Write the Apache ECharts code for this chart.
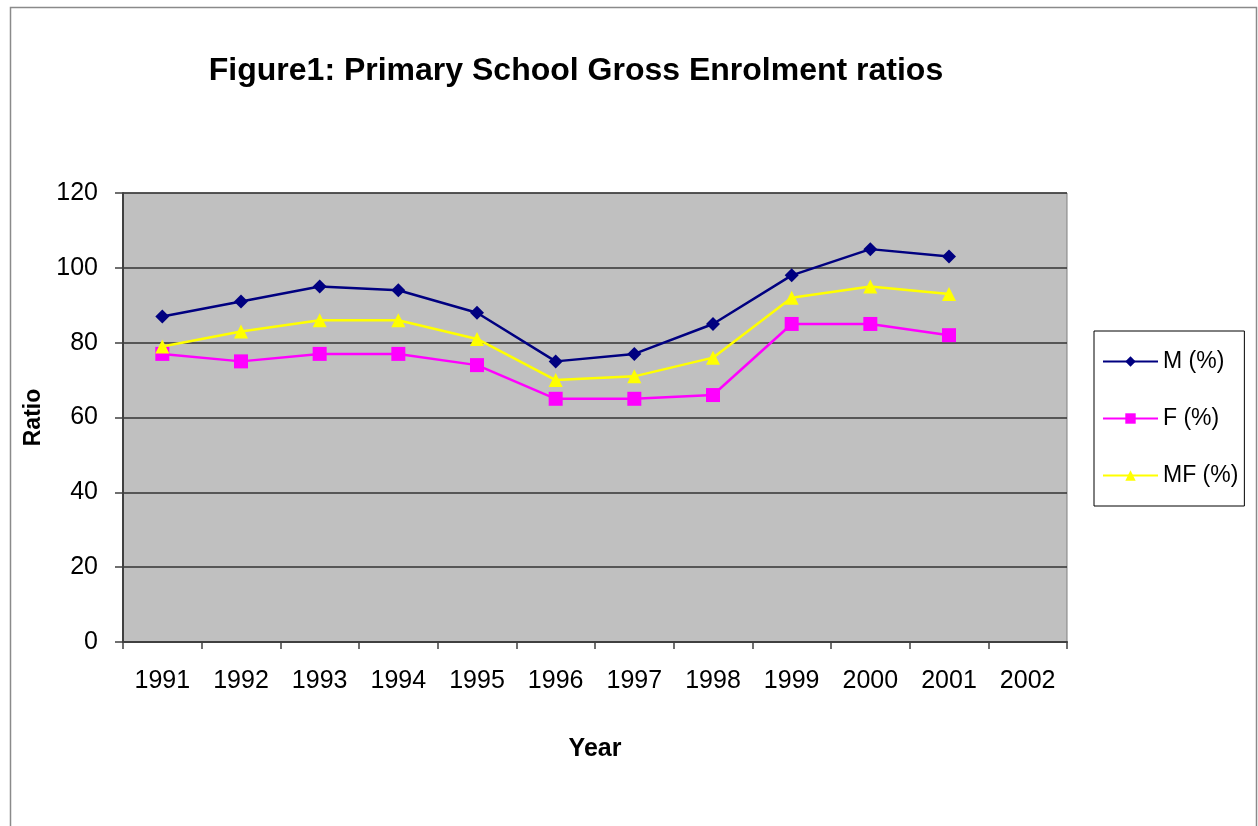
<!DOCTYPE html>
<html>
<head>
<meta charset="utf-8">
<script src="https://cdn.jsdelivr.net/npm/echarts@6/dist/echarts.min.js"></script>
<style>
html,body{margin:0;padding:0;background:#fff;}
#chart{width:1258px;height:826px;}
</style>
</head>
<body>
<div id="chart"></div>
<script>
const years = ['1991','1992','1993','1994','1995','1996','1997','1998','1999','2000','2001','2002']
const maleRatio = [87, 91, 95, 94, 88, 75, 77, 85, 98, 105, 103, null]
const femaleRatio = [77, 75, 77, 77, 74, 65, 65, 66, 85, 85, 82, null]
const totalRatio = [79, 83, 86, 86, 81, 70, 71, 76, 92, 95, 93, null]
const seriesNames = ['M (%)', 'F (%)', 'MF (%)']

const font = 'Arial, "Liberation Sans", sans-serif'
const myChart = echarts.init(document.getElementById('chart'))

const option = {
    animation: false,
    backgroundColor: '#fff',
    title: {
        text: 'Figure1: Primary School Gross Enrolment ratios',
        left: 571,
        top: 50,
        textAlign: 'center',
        textStyle: {
            fontFamily: font,
            fontSize: 32,
            fontWeight: 'bold',
            color: '#000'
        }
    },
    graphic: [
        {
            type: 'rect',
            shape: { x: 10.5, y: 7.5, width: 1246, height: 840 },
            style: { fill: null, stroke: '#8a8a8a', lineWidth: 1.5 },
            silent: true
        }
    ],
    legend: {
        orient: 'vertical',
        left: 1094,
        top: 331,
        padding: [19, 6, 19, 8],
        itemGap: 34,
        itemWidth: 55,
        itemHeight: 13,
        backgroundColor: '#fff',
        borderColor: '#000',
        borderWidth: 1,
        textStyle: {
            fontFamily: font,
            fontSize: 23,
            color: '#000'
        },
        data: seriesNames
    },
    grid: {
        left: 123,
        right: 191,
        top: 193,
        bottom: 184,
        show: true,
        backgroundColor: '#c0c0c0',
        borderColor: '#808080',
        borderWidth: 1
    },
    xAxis: {
        type: 'category',
        data: years,
        boundaryGap: true,
        name: 'Year',
        nameLocation: 'middle',
        nameGap: 95,
        nameTextStyle: {
            fontFamily: font,
            fontSize: 25,
            fontWeight: 'bold',
            color: '#000'
        },
        axisLine: { lineStyle: { color: '#404040', width: 2 } },
        axisTick: { show: true, length: 7, lineStyle: { color: '#404040', width: 1.5 } },
        axisLabel: {
            fontFamily: font,
            fontSize: 25,
            color: '#000',
            margin: 27
        },
        splitLine: { show: false }
    },
    yAxis: {
        type: 'value',
        min: 0,
        max: 120,
        interval: 20,
        name: 'Ratio',
        nameLocation: 'middle',
        nameGap: 75,
        nameTextStyle: {
            fontFamily: font,
            fontSize: 23,
            fontWeight: 'bold',
            color: '#000'
        },
        axisLine: { show: true, lineStyle: { color: '#404040', width: 2 } },
        axisTick: { show: true, length: 8, lineStyle: { color: '#404040', width: 1.5 } },
        axisLabel: {
            fontFamily: font,
            fontSize: 25,
            color: '#000',
            margin: 25
        },
        splitLine: { show: true, lineStyle: { color: '#333', width: 1.5 } }
    },
    series: [
        {
            name: seriesNames[0],
            type: 'line',
            data: maleRatio,
            symbol: 'diamond',
            symbolSize: 14,
            color: '#000080',
            lineStyle: { width: 2.5, color: '#000080' },
            itemStyle: { color: '#000080' }
        },
        {
            name: seriesNames[1],
            type: 'line',
            data: femaleRatio,
            symbol: 'rect',
            symbolSize: 14,
            color: '#ff00ff',
            lineStyle: { width: 2.5, color: '#ff00ff' },
            itemStyle: { color: '#ff00ff' }
        },
        {
            name: seriesNames[2],
            type: 'line',
            data: totalRatio,
            symbol: 'triangle',
            symbolSize: 14,
            color: '#ffff00',
            lineStyle: { width: 2.5, color: '#ffff00' },
            itemStyle: { color: '#ffff00' }
        }
    ]
}
myChart.setOption(option)
</script>
</body>
</html>
